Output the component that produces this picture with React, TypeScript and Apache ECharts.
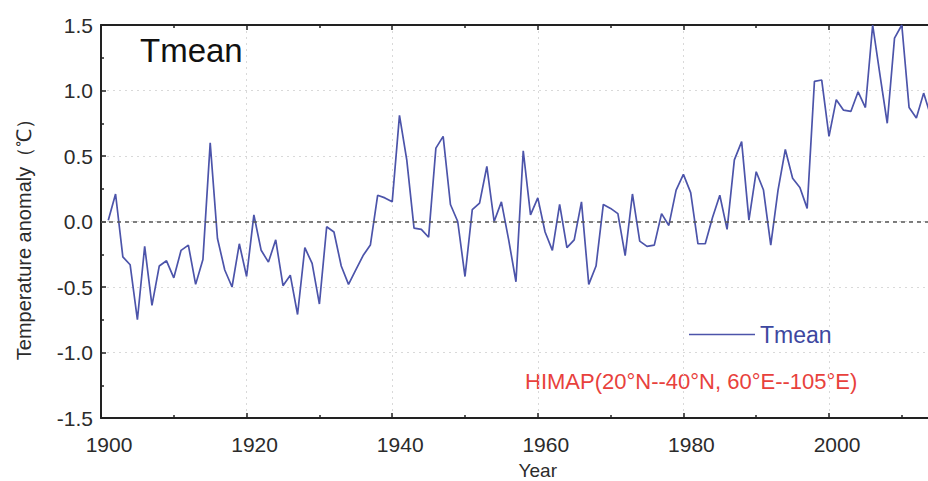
import React, { useEffect, useRef } from "react";
import * as echarts from "echarts";

const startYear = 1901;
const tmean = [
  0.01, 0.21, -0.27, -0.33, -0.75, -0.19, -0.64, -0.34, -0.3, -0.43,
  -0.22, -0.18, -0.48, -0.29, 0.6, -0.13, -0.37, -0.5, -0.17, -0.42,
  0.05, -0.22, -0.31, -0.14, -0.49, -0.41, -0.71, -0.2, -0.32, -0.63,
  -0.04, -0.08, -0.34, -0.48, -0.37, -0.26, -0.18, 0.2, 0.18, 0.15,
  0.81, 0.47, -0.05, -0.06, -0.12, 0.56, 0.65, 0.13, 0.0, -0.42,
  0.09, 0.14, 0.42, 0.0, 0.15, -0.14, -0.46, 0.54, 0.05, 0.18,
  -0.08, -0.22, 0.13, -0.2, -0.14, 0.15, -0.48, -0.34, 0.13, 0.1,
  0.06, -0.26, 0.21, -0.15, -0.19, -0.18, 0.06, -0.03, 0.24, 0.36,
  0.22, -0.17, -0.17, 0.03, 0.2, -0.06, 0.47, 0.61, 0.01, 0.38,
  0.24, -0.18, 0.24, 0.55, 0.33, 0.26, 0.1, 1.07, 1.08, 0.65,
  0.93, 0.85, 0.84, 0.99, 0.87, 1.5, 1.12, 0.75, 1.4, 1.5,
  0.87, 0.79, 0.98, 0.8,
];
const years = tmean.map((_, i) => startYear + i);
const yTicks = [-1.5, -1.0, -0.5, 0.0, 0.5, 1.0, 1.5];
const xTickLabels = [1900, 1920, 1940, 1960, 1980, 2000];

const FONT = "'Liberation Sans', Arial, sans-serif";
const LINE_COLOR = "#4c54aa";
const TEXT_COLOR = "#2b2b2b";

export default function App() {
  const ref = useRef<HTMLDivElement>(null);
  useEffect(() => {
    if (!ref.current) return;
    const chart = echarts.init(ref.current, undefined, { renderer: "svg" });
    const data = years.map((y, i) => [y, tmean[i]]);
    const axisLineStyle = { color: "#222", width: 2 };
    const tickStyle = { color: "#222", width: 1.5 };
    chart.setOption({
      animation: false,
      backgroundColor: "#fff",
      textStyle: { fontFamily: FONT },
      grid: {
        left: 101,
        width: 873.6,
        top: 25,
        bottom: 63,
        outerBoundsMode: "none",
        containLabel: false,
      },
      title: {
        text: "Tmean",
        left: 140,
        top: 34,
        padding: 0,
        textStyle: { fontSize: 33, fontWeight: "normal", color: "#111", fontFamily: FONT },
      },
      legend: {
        left: 689,
        top: 323,
        padding: 0,
        itemWidth: 66,
        itemHeight: 14,
        textStyle: { fontSize: 23, color: "#3d47a0", fontFamily: FONT },
        data: [{ name: "Tmean", icon: "path://M0,7L66,7L66,8.3L0,8.3Z" }],
      },
      xAxis: [
        {
          type: "value",
          min: 1900,
          max: 2020,
          interval: 20,
          name: "Year",
          nameLocation: "middle",
          nameGap: 43,
          nameTextStyle: { fontSize: 19, color: TEXT_COLOR, fontFamily: FONT },
          axisLine: { show: true, onZero: false, lineStyle: axisLineStyle },
          axisTick: { show: true, inside: true, length: 5, lineStyle: tickStyle },
          minorTick: { show: true, splitNumber: 2, length: 3, lineStyle: tickStyle },
          axisLabel: {
            fontSize: 21,
            color: TEXT_COLOR,
            margin: 16,
            padding: [0, 0, 0, 16],
            fontFamily: FONT,
            formatter: (v: number) => (xTickLabels.includes(v) ? String(v) : ""),
          },
          splitLine: { show: true, lineStyle: { color: "#d9d9d9", type: [2, 4], width: 1 } },
        },
        {
          type: "value",
          position: "top",
          min: 1900,
          max: 2020,
          interval: 20,
          axisLine: { show: true, onZero: false, lineStyle: axisLineStyle },
          axisTick: { show: true, inside: true, length: 5, lineStyle: tickStyle },
          minorTick: { show: true, splitNumber: 2, length: 3, lineStyle: tickStyle },
          axisLabel: { show: false },
          splitLine: { show: false },
        },
      ],
      yAxis: {
        type: "value",
        min: -1.5,
        max: 1.5,
        interval: 0.5,
        name: "Temperature anomaly（℃）",
        nameLocation: "middle",
        nameGap: 67,
        nameRotate: 90,
        nameTextStyle: {
          fontSize: 20,
          color: TEXT_COLOR,
          fontFamily: FONT,
          padding: [0, 26, 0, 0],
        },
        axisLine: { show: true, onZero: false, lineStyle: axisLineStyle },
        axisTick: { show: true, inside: true, length: 5, lineStyle: tickStyle },
        minorTick: { show: true, splitNumber: 2, length: 3, lineStyle: tickStyle },
        axisLabel: {
          fontSize: 21,
          color: TEXT_COLOR,
          margin: 8,
          fontFamily: FONT,
          formatter: (v: number) => (yTicks.some((t) => Math.abs(t - v) < 1e-9) ? v.toFixed(1) : ""),
        },
        splitLine: {
          show: true,
          lineStyle: { color: "#d9d9d9", type: [2, 4], width: 1 },
        },
      },
      series: [
        {
          name: "Tmean",
          type: "line",
          data,
          symbol: "none",
          clip: true,
          lineStyle: { color: LINE_COLOR, width: 1.7 },
          itemStyle: { color: LINE_COLOR },
          markLine: {
            silent: true,
            symbol: "none",
            label: { show: false },
            lineStyle: { color: "#555", type: [4, 4], width: 1.6 },
            data: [{ yAxis: 0 }],
          },
          z: 3,
        },
      ],
      graphic: [
        {
          type: "text",
          left: 525,
          top: 370,
          style: {
            text: "HIMAP(20°N--40°N, 60°E--105°E)",
            fill: "#e8413c",
            fontSize: 22,
            fontFamily: FONT,
          },
        },
      ],
    });
    return () => chart.dispose();
  }, []);
  return (
    <div
      ref={ref}
      style={{ position: "fixed", left: 0, top: 0, width: 928, height: 481 }}
    />
  );
}
